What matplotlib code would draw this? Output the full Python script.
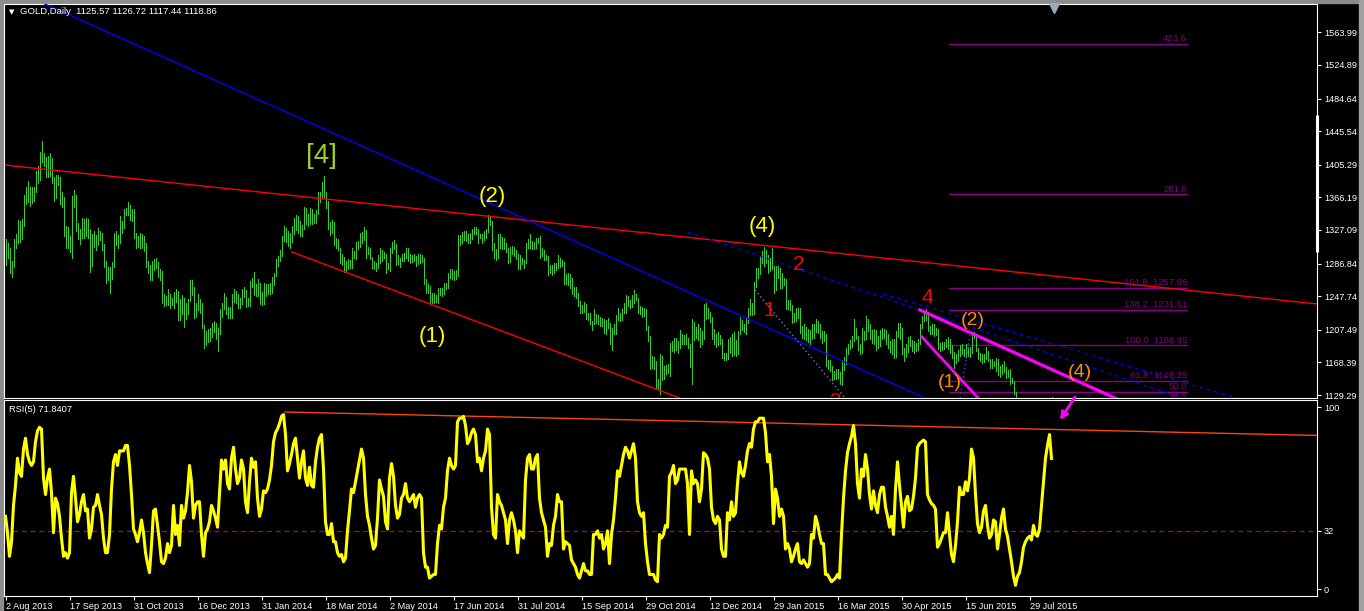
import matplotlib
matplotlib.use("Agg")
import matplotlib.pyplot as plt
from matplotlib.transforms import blended_transform_factory
from matplotlib.patches import Rectangle

plt.rcParams['font.family'] = ['Liberation Sans', 'DejaVu Sans']

W, H = 1364, 611

# ---------------- data (daily bars, GOLD) ----------------
lows = [
    1285,1294,1275,1271,1283,1306,1311,1313,1316,1332,1358,1361,1356,1360,1362,1372,1383,1387,1409,1404,1391,
    1391,1392,1383,1362,1365,1381,1358,1355,1320,1306,1306,1301,1294,1355,1326,1316,1310,1318,1318,1320,1318,
    1277,1284,1307,1303,1309,1315,1303,1283,1264,1267,1251,1268,1283,1309,1305,1312,1323,1330,1345,1345,1339,1338,1318,
    1306,1307,1306,1306,1302,1283,1276,1267,1267,1279,1281,1271,1267,1240,1236,1237,1237,1234,1237,1233,1241,
    1219,1219,1226,1211,1220,1226,1242,1249,1222,1223,1231,1227,1210,1186,1189,1193,1194,1199,1205,1196,1182,
    1202,1223,1232,1226,1221,1221,1222,1241,1240,1234,1234,1238,1247,1235,1236,1236,1259,1249,1248,1248,1238,1237,
    1238,1248,1250,1250,1251,1261,1272,1284,1290,1296,1314,1313,1308,1306,1313,1322,1327,1323,1320,1320,
    1328,1334,1332,1334,1334,1336,1336,1346,1361,1366,1365,1353,1328,1321,1324,1309,1305,1303,1288,1285,1277,
    1277,1280,1282,1282,1294,1292,1304,1307,1312,1315,1293,1298,1292,1282,1280,1278,1282,1288,1290,1293,1276,1280,1278,
    1299,1304,1285,1286,1283,1290,1290,1293,1290,1288,1289,1290,1284,1286,1288,1289,1262,1251,1252,1240,
    1240,1240,1241,1240,1249,1248,1250,1256,1258,1270,1268,1267,1268,1272,1309,1312,1315,1314,1311,1312,1316,
    1322,1322,1311,1317,1311,1315,1317,1325,1333,1303,1293,1291,1293,1306,1304,1304,1301,1288,1289,1298,1296,1292,1280,
    1280,1286,1282,1287,1306,1306,1304,1304,1305,1311,1293,1296,1291,1291,1273,1275,1273,1276,1279,1282,1283,
    1284,1262,1262,1261,1258,1250,1248,1246,1236,1227,1228,1229,1220,1219,1214,1207,1214,1215,1214,1212,1212,1204,
    1203,1209,1190,1183,1203,1203,1219,1218,1219,1228,1227,1236,1234,1235,1240,1243,1227,1226,1223,1224,1207,
    1194,1161,1162,1161,1138,1137,1131,1147,1149,1155,1156,1152,1182,1181,1183,1180,1186,1191,1191,1191,1186,1163,
    1142,1195,1198,1195,1187,1190,1196,1220,1222,1217,1196,1190,1187,1189,1190,1174,1171,1171,1173,1180,1176,1177,
    1176,1179,1203,1207,1205,1203,1215,1225,1225,1226,1259,1270,1274,1287,1284,1288,1276,1278,1280,1251,1255,
    1270,1257,1257,1261,1232,1232,1231,1216,1217,1218,1222,1204,1198,1197,1195,1193,1190,1197,1198,1205,
    1204,1198,1192,1194,1164,1161,1158,1147,1148,1148,1150,1142,1141,1159,1166,1178,1185,1187,1194,1196,1183,1178,
    1180,1195,1196,1206,1196,1192,1190,1183,1186,1188,1197,1198,1190,1186,1181,1178,1174,1175,1199,1196,1178,
    1170,1175,1181,1188,1182,1180,1182,1183,1190,1209,1218,1219,1206,1203,1203,1200,1201,1184,1182,1183,1185,
    1187,1184,1180,1174,1162,1168,1170,1176,1179,1176,1175,1176,1175,1180,1198,1182,1172,1170,1168,1169,1172,1170,
    1162,1162,1164,1158,1153,1151,1155,1157,1150,1151,1142,1144,1131,1080,1096,1086,1088,1077,1085,1090,1090,1080,
    1084,1085,1080,1084,1084,1085,1090,1099,1105,1117,
]
highs = [
    1316,1312,1305,1290,1316,1322,1339,1338,1340,1369,1379,1386,1378,1378,1379,1398,1404,1421,1434,1419,1414,
    1416,1419,1413,1391,1393,1393,1390,1372,1366,1332,1331,1320,1368,1375,1369,1336,1328,1341,1340,1341,1340,
    1328,1322,1326,1321,1329,1326,1324,1310,1290,1283,1283,1289,1324,1326,1321,1344,1338,1352,1353,1361,1357,1352,1352,
    1324,1320,1324,1322,1320,1311,1290,1285,1290,1292,1293,1289,1280,1278,1250,1248,1256,1250,1246,1253,1256,
    1254,1244,1249,1246,1240,1244,1267,1267,1259,1240,1250,1244,1239,1213,1206,1208,1209,1215,1218,1215,1209,
    1232,1240,1252,1247,1235,1235,1250,1256,1254,1250,1246,1256,1259,1255,1246,1266,1270,1277,1262,1268,1263,1253,
    1263,1262,1262,1264,1271,1276,1292,1296,1303,1320,1332,1330,1326,1324,1332,1342,1345,1344,1338,1333,
    1355,1354,1346,1353,1352,1346,1351,1373,1373,1384,1392,1372,1362,1337,1339,1337,1317,1316,1306,1298,1295,
    1290,1292,1291,1306,1302,1313,1314,1323,1325,1331,1327,1307,1305,1295,1290,1287,1297,1305,1303,1301,1298,1287,1306,
    1313,1315,1310,1297,1294,1298,1299,1306,1306,1298,1297,1298,1296,1298,1298,1297,1294,1268,1262,1260,
    1251,1251,1249,1258,1258,1257,1264,1264,1275,1280,1280,1278,1279,1321,1321,1325,1326,1326,1322,1323,1328,
    1331,1331,1328,1322,1322,1326,1328,1345,1343,1338,1311,1304,1322,1322,1319,1317,1312,1305,1307,1308,1307,1303,1298,
    1297,1293,1291,1311,1316,1322,1314,1313,1318,1318,1320,1305,1303,1297,1296,1285,1285,1287,1288,1297,1293,
    1291,1289,1274,1275,1274,1270,1259,1259,1251,1242,1237,1241,1238,1228,1227,1218,1232,1226,1225,1223,1222,1220,
    1219,1222,1216,1209,1214,1225,1234,1228,1232,1239,1249,1248,1243,1249,1255,1250,1246,1236,1235,1233,1232,
    1212,1200,1176,1175,1170,1148,1178,1176,1164,1165,1166,1192,1194,1198,1198,1194,1207,1202,1201,1203,1198,1191,
    1220,1217,1211,1214,1210,1206,1238,1239,1233,1229,1223,1208,1203,1205,1201,1197,1180,1180,1197,1199,1203,1205,
    1195,1206,1223,1219,1214,1223,1233,1244,1240,1265,1281,1282,1296,1302,1307,1303,1297,1294,1306,1284,1284,
    1284,1282,1275,1270,1268,1243,1243,1237,1228,1233,1234,1233,1212,1214,1211,1208,1207,1214,1214,1220,
    1218,1214,1206,1206,1202,1171,1171,1164,1158,1160,1160,1157,1171,1175,1186,1191,1195,1200,1220,1209,1200,1190,
    1209,1206,1224,1220,1214,1207,1208,1207,1200,1207,1209,1208,1207,1203,1194,1197,1197,1206,1215,1215,1209,
    1186,1191,1199,1200,1195,1194,1192,1196,1214,1224,1227,1232,1229,1212,1214,1214,1209,1208,1192,1193,1193,
    1196,1199,1197,1189,1181,1179,1183,1189,1191,1185,1190,1187,1187,1205,1205,1203,1186,1180,1178,1179,1187,1182,
    1173,1172,1170,1174,1172,1164,1167,1170,1163,1159,1160,1150,1146,1133,1111,1104,1105,1099,1102,1100,1099,1096,
    1098,1096,1091,1093,1095,1097,1105,1113,1125,1127,
]
rsi = [
    40,31,18,26,46,57,72,64,62,77, 83,74,70,68,70,81,87,89,88,61,
    52,61,66,53,31,50,47,40,28,18, 20,17,20,53,62,50,37,41,48,52,
    43,44,28,33,45,46,52,46,41,28, 20,20,30,55,70,74,68,76,76,76,
    79,79,68,52,33,30,26,31,38,31, 20,14,9,24,43,44,35,26,15,14,
    17,25,20,24,46,30,35,24,46,39, 43,53,68,59,39,46,48,48,30,18,
    31,33,37,46,43,39,34,53,71,66, 71,58,55,72,78,66,58,61,71,66,
    48,42,59,72,67,70,50,40,44,54, 53,55,60,68,81,86,88,91,95,96,
    85,65,69,74,80,83,72,61,70,76, 61,57,67,57,56,70,78,83,85,66,
    37,30,30,36,26,26,20,18,19,15, 17,32,43,55,53,59,65,71,77,72,
    52,40,35,28,22,24,39,60,55,51, 37,33,61,69,62,46,39,41,
    50,52,58,50,48,50,52,45,50,52,50,20,
    12,12,6,7,8,8,25,35,33,45, 50,65,72,68,66,68,92,94,94,95,
    90,80,82,86,88,85,70,72,65,72, 76,88,85,45,30,28,52,48,46,42,
    38,25,38,42,38,32,20,32,30,28, 60,72,74,66,66,72,74,50,42,38,
    34,18,25,24,35,40,52,48,48,22, 26,25,24,16,14,12,8,6,10,14,
    10,10,8,8,30,30,32,28,30,22, 25,32,14,30,38,50,65,62,68,74,
    78,76,72,76,80,72,48,42,40,42, 25,15,8,8,8,5,4,30,28,30,
    35,34,62,64,68,58,60,66,66,66, 66,58,30,65,58,60,58,48,55,75,
    74,72,66,45,38,36,40,38,22,18, 18,42,38,48,40,42,58,70,64,62,
    68,76,80,78,88,92,92,94,94,94, 86,70,74,62,36,55,50,40,44,40,
    22,25,22,15,18,22,25,15,14,16, 14,12,14,30,28,40,36,30,25,25,
    8,8,6,4,5,6,8,6,30,50, 65,75,80,84,90,80,58,50,66,62,
    74,66,52,44,54,46,42,52,56,56, 45,40,34,40,30,55,70,57,
    46,34,48,51,43,44,51,61,78,80, 81,82,81,52,49,47,46,44,23,25,
    28,31,31,42,30,19,15,24,37,56, 52,52,59,54,61,77,72,52,36,31,
    34,43,46,35,28,30,38,37,22,30, 39,44,33,29,22,15,7,2,7,9,
    15,23,26,28,29,27,35,30,29,33, 46,59,72,79,85,71.84,
]

date_labels = ["2 Aug 2013", "17 Sep 2013", "31 Oct 2013", "16 Dec 2013", "31 Jan 2014",
               "18 Mar 2014", "2 May 2014", "17 Jun 2014", "31 Jul 2014", "15 Sep 2014",
               "29 Oct 2014", "12 Dec 2014", "29 Jan 2015", "16 Mar 2015", "30 Apr 2015",
               "15 Jun 2015", "29 Jul 2015"]
bars_per_label = 32
price_ticks = [1129.29, 1168.39, 1207.49, 1247.74, 1286.84, 1327.09, 1366.19,
               1405.29, 1445.54, 1484.64, 1524.89, 1563.99]
rsi_ticks = [0, 32, 100]
rsi_level = 32
header_text = "GOLD,Daily  1125.57 1126.72 1117.44 1118.86"
rsi_text = "RSI(5) 71.8407"

# fibonacci expansion
fib_levels = ["423.6", "261.8", "161.8", "138.2", "100.0", "61.8", "50.0", "38.2"]
fib_prices = [1550.3, 1369.6, 1257.96, 1231.61, 1188.95, 1146.29, 1133.12, 1119.94]
fib_show_price = [False, False, True, True, True, True, False, False]
fib_bar_range = (471.75, 590.75)

# trend lines: (bar0, price0, bar1, price1)
red_top = (0, 1404.8, 656, 1238.4)
red_low = (143.25, 1300.7, 380, 1087.0)
blue_main = (0, 1619.0, 470, 1114.7)
blue_dash_a = (341.25, 1324.6, 588.25, 1125.7)
blue_dash_b = (438.75, 1250.3, 617.25, 1124.5)
blue_dot_a = (374.75, 1255.1, 419.75, 1125.7)
blue_dot_b = (482.25, 1201.2, 477.25, 1125.7)
magenta_a = (457.25, 1231.2, 570, 1109.2)
magenta_b = (458.25, 1198.8, 495, 1102.9)
rsi_red = (139.75, 97.4, 655.75, 84.5)
rsi_arrow = (534.75, 105.7, 527.25, 93.0)

# wave labels: (text, bar, price, color, size)
waves = [
    ("[4]", 158.25, 1415.7, "#9ACD32", 20),
    ("(2)", 243.25, 1366.6, "#FFFF00", 16),
    ("(1)", 213.25, 1200.0, "#FFFF00", 16),
    ("(4)", 378.25, 1331.8, "#FFFF00", 16),
    ("2", 396.75, 1285.1, "#FF0000", 15),
    ("1", 381.75, 1230.0, "#FF0000", 15),
    ("3", 414.75, 1121.0, "#FF0000", 15),
    ("4", 460.75, 1246.7, "#FF0000", 15),
    ("(2)", 483.75, 1218.0, "#FF8C00", 14),
    ("(1)", 472.25, 1143.7, "#FF8C00", 14),
    ("(4)", 537.25, 1155.7, "#FF8C00", 14),
]

# ---------------- figure ----------------
fig = plt.figure(figsize=(W / 100, H / 100), dpi=100, facecolor="black")


def fx(px):
    return px / W


def fy(py):
    return 1 - py / H


XLIM = (-0.75, 655.75)
ax = fig.add_axes([fx(4), fy(398), (1317 - 4) / W, (398 - 4) / H], facecolor="black")
ax2 = fig.add_axes([fx(4), fy(596), (1317 - 4) / W, (596 - 400) / H], facecolor="black")

n = min(len(lows), len(highs), len(rsi))
idx = list(range(n))

# price bars
ax.vlines(idx, lows[:n], highs[:n], color="#32CD32", lw=0.55, antialiased=False, zorder=3)
ax.set_xlim(*XLIM)
ax.set_ylim(1125.7, 1597.9)


def seg(a, line, **kw):
    a.plot([line[0], line[2]], [line[1], line[3]], **kw)


seg(ax, red_top, color="#FF0000", lw=1.0, zorder=4)
seg(ax, red_low, color="#FF0000", lw=1.0, zorder=4)
seg(ax, blue_main, color="#0000FF", lw=1.0, zorder=4)
seg(ax, blue_dash_a, color="#0000FF", lw=0.9, ls=(0, (3, 3)), zorder=4)
seg(ax, blue_dash_b, color="#0000FF", lw=0.9, ls=(0, (3, 3)), zorder=4)
seg(ax, blue_dot_a, color="#5A7EE0", lw=1.0, ls=(0, (1, 2)), zorder=4)
seg(ax, blue_dot_b, color="#2050FF", lw=1.0, ls=(0, (1, 2)), zorder=4)
seg(ax, magenta_a, color="#FF00FF", lw=2.3, zorder=5)
seg(ax, magenta_b, color="#FF00FF", lw=2.0, zorder=5)

# fibonacci
for lvl, pr, showp in zip(fib_levels, fib_prices, fib_show_price):
    ax.plot(fib_bar_range, [pr, pr], color="#8B008B", lw=1.0, zorder=2)
    label = f"{lvl}  {pr:.2f}" if showp else lvl
    ax.text(fib_bar_range[1], pr + 0.8, label, color="#800080", fontsize=6.8,
            ha="right", va="bottom", clip_on=True, zorder=6)

# wave labels
for txt, b, p, c, s in waves:
    ax.text(b, p, txt, color=c, fontsize=s, ha="center", va="center", clip_on=True, zorder=7)

# axis styling
for a in (ax, ax2):
    for sp in a.spines.values():
        sp.set_color("white")
        sp.set_linewidth(0.8)
    a.tick_params(colors="white", labelcolor="white", labelsize=6.6, length=3, width=0.8,
                  direction="out")

ax.yaxis.tick_right()
ax.set_yticks(price_ticks)
ax.set_yticklabels([f"{t:.2f}" for t in price_ticks])
ax.tick_params(axis="y", pad=2)
ax.set_xticks([])

# scroll marker on price scale and chart shift marker
btr = blended_transform_factory(ax.transAxes, ax.transData)
ax.plot([1.0, 1.0], [1464.9, 1300.7], transform=btr, color="white", lw=2.2, clip_on=False,
        solid_capstyle="butt", zorder=8)
btr2 = blended_transform_factory(ax.transData, ax.transAxes)
ax.plot([524], [0.99], transform=btr2, marker="v", ms=6.5, color="#9AAAB8", clip_on=False,
        zorder=8, ls="none")

# RSI panel
ax2.set_xlim(*XLIM)
ax2.set_ylim(-3.85, 104.0)
ax2.axhline(rsi_level, color="#9A009A", lw=0.9, ls=(0, (4, 3)), zorder=2)
seg(ax2, rsi_red, color="#FF4500", lw=1.0, zorder=3)
ax2.plot(idx, rsi[:n], color="#FFFF00", lw=2.2, zorder=4, solid_joinstyle="round")
ax2.annotate("", xy=(rsi_arrow[2], rsi_arrow[3]), xytext=(rsi_arrow[0], rsi_arrow[1]),
             arrowprops=dict(arrowstyle="-|>", color="#FF00FF", lw=2.0, mutation_scale=11,
                             shrinkA=0, shrinkB=0),
             annotation_clip=False, zorder=9)
ax2.yaxis.tick_right()
ax2.set_yticks(rsi_ticks)
ax2.set_yticklabels([str(t) for t in rsi_ticks])
ax2.tick_params(axis="y", pad=2)
ticks = [k * bars_per_label for k in range(len(date_labels))]
ax2.set_xticks(ticks)
ax2.set_xticklabels(date_labels)
for lab in ax2.get_xticklabels():
    lab.set_ha("left")
ax2.tick_params(axis="x", pad=1.5)

# texts
fig.text(fx(9), fy(409), rsi_text, color="white", fontsize=6.7, ha="left", va="center")
fig.text(fx(20), fy(12), header_text, color="white", fontsize=6.8, ha="left", va="center")
fig.text(fx(11.5), fy(12), "\u25BC", color="white", fontsize=5, ha="center", va="center",
         family=["DejaVu Sans"])

# window frame
fig.patches.append(Rectangle((0, fy(3)), 1, 3 / H, transform=fig.transFigure,
                             color="#8c8c8c", zorder=-1))
fig.patches.append(Rectangle((0, 0), 3 / W, 1, transform=fig.transFigure,
                             color="#8c8c8c", zorder=-1))
fig.patches.append(Rectangle((fx(1359), 0), 5 / W, 1, transform=fig.transFigure,
                             color="#a0a0a0", zorder=-1))

fig.savefig("out.png", dpi=100, facecolor="black")
